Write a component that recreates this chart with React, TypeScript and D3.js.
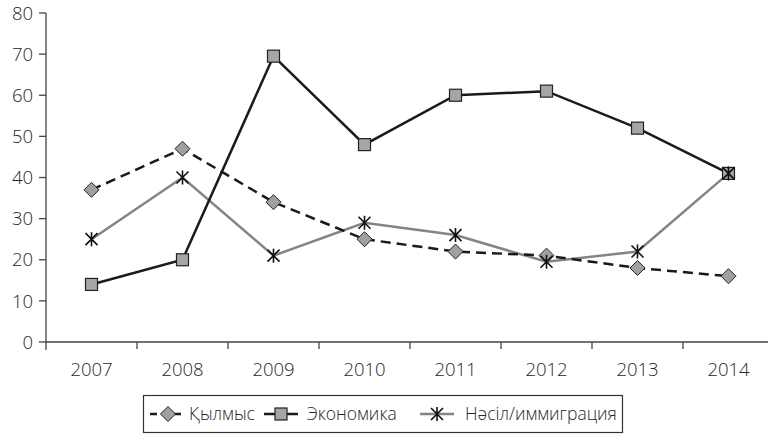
import React, { useEffect, useRef } from "react";
import * as d3 from "d3";

const years = ["2007", "2008", "2009", "2010", "2011", "2012", "2013", "2014"];
const crime = [37, 47, 34, 25, 22, 21, 18, 16];
const economy = [14, 20, 69.5, 48, 60, 61, 52, 41];
const race = [25, 40, 21, 29, 26, 19.5, 22, 41];
const yTicks = [0, 10, 20, 30, 40, 50, 60, 70, 80];
const seriesNames = ["Қылмыс", "Экономика", "Нәсіл/иммиграция"];

const W = 768, H = 434;
const FONT = "'Open Sans', 'Noto Sans', sans-serif";
const TXT = "#262626";

export default function App() {
  const ref = useRef<SVGSVGElement>(null);
  useEffect(() => {
    const svg = d3.select(ref.current);
    svg.selectAll("*").remove();
    const x0 = 46, x1 = 774, yTop = 13, yBot = 342;
    const x = d3.scaleBand().domain(years).range([x0, x1]);
    const cx = (d: string) => (x(d) as number) + x.bandwidth() / 2;
    const y = d3.scaleLinear().domain([0, 80]).range([yBot, yTop]);

    const g = svg.append("g");
    g.append("line").attr("x1", x0).attr("x2", x0).attr("y1", yTop).attr("y2", yBot + 8)
      .attr("stroke", "#444").attr("stroke-width", 1.3);
    g.append("line").attr("x1", x0).attr("x2", W).attr("y1", yBot).attr("y2", yBot)
      .attr("stroke", "#444").attr("stroke-width", 1.3);
    yTicks.forEach((t) => {
      g.append("line").attr("x1", x0 - 7).attr("x2", x0).attr("y1", y(t)).attr("y2", y(t))
        .attr("stroke", "#444").attr("stroke-width", 1.3);
      g.append("text").attr("x", x0 - 13).attr("y", y(t)).attr("dy", "0.36em")
        .attr("text-anchor", "end").attr("font-family", FONT).attr("font-size", 18.5)
        .attr("font-weight", 300).attr("fill", TXT).text(String(t));
    });
    years.forEach((yr, i) => {
      if (i > 0) {
        const bx = x(yr) as number;
        g.append("line").attr("x1", bx).attr("x2", bx).attr("y1", yBot).attr("y2", yBot + 7)
          .attr("stroke", "#444").attr("stroke-width", 1.3);
      }
      g.append("text").attr("x", cx(yr)).attr("y", yBot + 34)
        .attr("text-anchor", "middle").attr("font-family", FONT).attr("font-size", 18.5)
        .attr("font-weight", 300).attr("fill", TXT).text(yr);
    });

    const line = d3.line<number>().x((_, i) => cx(years[i])).y((d) => y(d));

    const diamond = (sel: any, px: number, py: number) => {
      const r = 7.5;
      sel.append("path").attr("d", `M${px},${py - r}L${px + r},${py}L${px},${py + r}L${px - r},${py}Z`)
        .attr("fill", "#a0a0a0").attr("stroke", "#222").attr("stroke-width", 1);
    };
    const square = (sel: any, px: number, py: number) => {
      const s = 12;
      sel.append("rect").attr("x", px - s / 2).attr("y", py - s / 2).attr("width", s).attr("height", s)
        .attr("fill", "#a6a6a6").attr("stroke", "#222").attr("stroke-width", 1.2);
    };
    const star = (sel: any, px: number, py: number) => {
      const a = 6, b = 7;
      sel.append("path")
        .attr("d", `M${px},${py - b}L${px},${py + b}M${px - a},${py - a}L${px + a},${py + a}M${px - a},${py + a}L${px + a},${py - a}`)
        .attr("stroke", "#111").attr("stroke-width", 1.6).attr("fill", "none");
    };

    const p = svg.append("g");
    p.append("path").attr("d", line(race)).attr("fill", "none").attr("stroke", "#848484").attr("stroke-width", 2.5);
    p.append("path").attr("d", line(crime)).attr("fill", "none").attr("stroke", "#1a1a1a")
      .attr("stroke-width", 2.5).attr("stroke-dasharray", "10,6");
    p.append("path").attr("d", line(economy)).attr("fill", "none").attr("stroke", "#1a1a1a").attr("stroke-width", 2.5);
    crime.forEach((d, i) => diamond(p, cx(years[i]), y(d)));
    economy.forEach((d, i) => square(p, cx(years[i]), y(d)));
    race.forEach((d, i) => star(p, cx(years[i]), y(d)));

    // legend
    const L = svg.append("g");
    L.append("rect").attr("x", 143.5).attr("y", 395.5).attr("width", 479).attr("height", 37)
      .attr("fill", "white").attr("stroke", "#333").attr("stroke-width", 1.2);
    const ly = 414;
    const items = [
      { x: 150, tx: 189, kind: "crime" },
      { x: 264, tx: 307, kind: "econ" },
      { x: 420, tx: 465, kind: "race" },
    ];
    items.forEach((it, i) => {
      const mid = it.x + 18;
      if (it.kind === "crime") {
        L.append("line").attr("x1", it.x).attr("x2", it.x + 34).attr("y1", ly).attr("y2", ly)
          .attr("stroke", "#1a1a1a").attr("stroke-width", 2.5).attr("stroke-dasharray", "7,5");
        diamond(L, mid, ly);
      } else if (it.kind === "econ") {
        L.append("line").attr("x1", it.x).attr("x2", it.x + 34).attr("y1", ly).attr("y2", ly)
          .attr("stroke", "#1a1a1a").attr("stroke-width", 2.5);
        square(L, it.x + 17, ly);
      } else {
        L.append("line").attr("x1", it.x).attr("x2", it.x + 34).attr("y1", ly).attr("y2", ly)
          .attr("stroke", "#848484").attr("stroke-width", 2.5);
        star(L, it.x + 17, ly);
      }
      L.append("text").attr("x", it.tx).attr("y", ly).attr("dy", "0.36em")
        .attr("font-family", FONT).attr("font-size", 17.5).attr("font-weight", 300)
        .attr("fill", TXT).text(seriesNames[i]);
    });
  }, []);
  return (
    <svg ref={ref} width={W} height={H} style={{ position: "absolute", left: 0, top: 0, background: "white" }} />
  );
}
